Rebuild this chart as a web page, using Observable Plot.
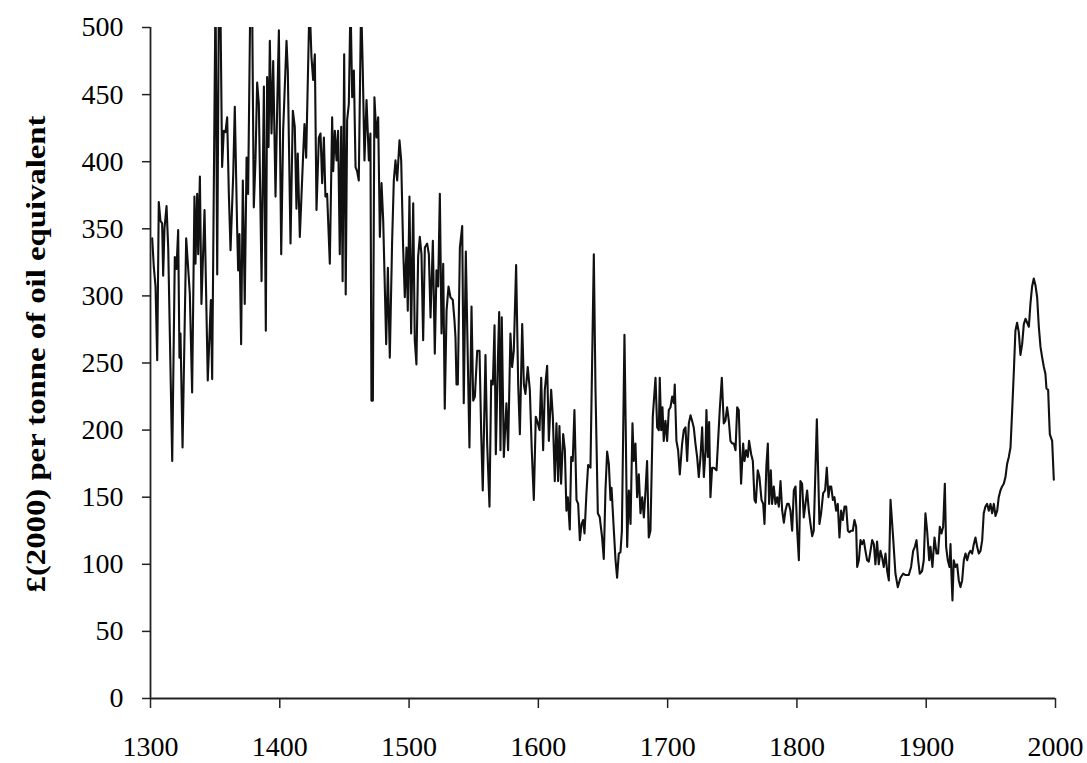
<!DOCTYPE html>
<html>
<head>
<meta charset="utf-8">
<script src="https://cdn.jsdelivr.net/npm/d3@7"></script>
<script src="https://cdn.jsdelivr.net/npm/@observablehq/plot@0.6"></script>
<style>
  html, body { margin: 0; padding: 0; background: #fff; }
  #chart { width: 1087px; height: 763px; }
</style>
</head>
<body>
<div id="chart"></div>
<script>
const yLabel = "£(2000) per tonne of oil equivalent";
const xTicks = [1300, 1400, 1500, 1600, 1700, 1800, 1900, 2000];
const yTicks = [0, 50, 100, 150, 200, 250, 300, 350, 400, 450, 500];

const years = [
1301.3,1302.6,1303.9,1305.2,1306.4,1307.7,1309.0,1309.8,1310.8,1312.4,1313.7,1316.8,1318.8,1320.1,1321.4,1322.4,1323.2,1324.8,1327.6,1330.4,
1332.2,1334.0,1334.8,1336.1,1336.9,1338.2,1339.4,1341.8,1344.3,1346.7,1347.7,1350.3,1351.6,1352.9,1354.1,1355.4,1356.7,1358.0,1359.3,1360.6,
1361.9,1364.0,1365.2,1367.0,1367.8,1368.8,1370.1,1371.4,1372.9,1374.3,1375.5,1377.3,1378.6,1379.9,1381.2,1382.5,1383.8,1385.9,1387.7,1389.2,
1390.2,1391.3,1392.3,1393.6,1394.9,1396.7,1398.0,1399.3,1401.1,1402.6,1405.2,1406.2,1408.3,1410.1,1411.6,1412.9,1413.9,1415.5,1418.1,1419.1,
1420.4,1423.0,1424.5,1425.8,1427.1,1428.4,1430.2,1431.5,1432.8,1434.1,1435.3,1436.6,1438.7,1440.5,1441.3,1442.6,1443.9,1445.1,1446.4,1447.5,
1448.6,1449.8,1451.0,1452.1,1453.4,1454.7,1456.0,1457.3,1458.6,1459.8,1461.1,1462.9,1464.2,1465.5,1467.1,1468.9,1470.1,1470.9,1472.0,1473.2,
1474.8,1476.1,1477.4,1478.7,1480.0,1482.3,1483.6,1485.1,1486.9,1488.2,1489.5,1490.8,1492.6,1493.9,1495.4,1496.7,1498.0,1499.0,1500.3,1501.6,
1503.2,1504.4,1505.7,1507.0,1508.3,1509.6,1510.9,1512.2,1514.0,1515.3,1516.6,1518.4,1519.9,1521.2,1522.5,1523.8,1525.1,1526.4,1527.6,1529.0,
1530.5,1532.0,1533.8,1535.1,1535.9,1536.7,1537.7,1539.3,1541.1,1542.3,1543.9,1545.4,1546.7,1548.3,1549.6,1550.9,1552.7,1554.5,1555.8,1557.0,
1559.1,1560.4,1562.2,1563.5,1564.8,1566.1,1567.1,1568.6,1569.7,1570.7,1571.7,1573.3,1575.3,1576.6,1578.4,1579.7,1581.0,1582.8,1584.4,1585.7,
1587.5,1588.8,1590.0,1591.8,1593.4,1594.9,1596.5,1598.0,1599.6,1600.9,1602.2,1603.7,1605.0,1606.8,1608.1,1609.9,1611.2,1612.7,1614.0,1615.3,
1616.3,1617.6,1619.2,1620.5,1621.7,1622.8,1624.3,1625.4,1626.6,1627.9,1629.5,1630.8,1632.1,1633.4,1634.6,1635.7,1637.2,1638.5,1640.3,1642.9,
1644.2,1646.0,1647.5,1649.3,1650.6,1651.9,1653.2,1654.5,1655.8,1656.6,1658.4,1659.7,1660.9,1662.2,1663.5,1664.6,1666.6,1667.6,1668.7,1670.0,
1671.3,1672.8,1673.8,1675.1,1676.4,1677.7,1679.0,1680.3,1681.6,1682.9,1684.1,1685.4,1686.7,1688.5,1690.6,1691.9,1693.2,1693.9,1695.0,1696.0,
1697.0,1698.3,1699.6,1700.9,1702.2,1703.5,1704.8,1705.5,1706.8,1708.1,1709.4,1711.2,1712.5,1713.8,1715.1,1716.4,1717.7,1718.9,1720.2,1721.5,
1722.8,1724.1,1725.4,1726.7,1728.0,1729.3,1730.0,1731.1,1732.1,1733.1,1734.4,1735.7,1737.8,1740.3,1741.9,1743.4,1744.7,1746.0,1747.3,1748.6,
1749.9,1751.2,1752.5,1753.8,1755.0,1756.8,1758.4,1759.4,1760.7,1762.0,1763.0,1764.6,1765.9,1767.2,1768.2,1769.7,1771.0,1772.6,1773.9,1774.9,
1776.4,1777.5,1778.5,1779.8,1780.8,1782.1,1783.4,1784.7,1786.0,1787.3,1788.6,1789.9,1791.1,1792.4,1793.7,1795.0,1796.3,1797.6,1798.9,1800.2,
1801.5,1802.7,1804.0,1805.3,1806.6,1807.9,1809.2,1810.5,1811.8,1813.0,1814.3,1815.4,1816.4,1817.4,1818.7,1820.3,1821.8,1823.1,1824.4,1825.4,
1826.5,1827.8,1829.0,1830.3,1831.6,1832.9,1834.2,1835.5,1836.8,1838.1,1839.4,1840.6,1841.9,1843.2,1844.5,1845.8,1846.6,1847.9,1849.2,1850.4,
1851.7,1853.0,1854.3,1855.6,1856.9,1858.2,1859.5,1860.7,1862.0,1863.3,1864.6,1865.9,1867.2,1868.5,1869.8,1871.1,1872.4,1874.4,1876.2,1878.0,
1880.1,1882.2,1884.0,1886.5,1888.3,1889.9,1891.2,1892.5,1893.8,1895.0,1896.8,1898.1,1899.4,1900.7,1902.3,1903.3,1904.8,1906.4,1908.0,1909.2,
1910.5,1911.8,1913.1,1914.4,1915.4,1916.7,1918.0,1918.8,1919.5,1920.3,1921.3,1922.6,1923.9,1925.2,1926.5,1927.8,1929.1,1930.4,1931.7,1933.0,
1934.2,1935.5,1936.8,1938.1,1939.4,1940.7,1942.0,1943.3,1944.5,1945.8,1947.1,1948.4,1949.7,1951.0,1952.3,1953.6,1954.9,1956.1,1957.4,1958.7,
1960.0,1961.3,1962.6,1963.9,1965.2,1966.5,1967.8,1969.0,1970.3,1971.6,1972.9,1974.2,1975.5,1976.8,1978.1,1979.4,1980.6,1981.9,1983.2,1984.5,
1985.8,1987.1,1988.4,1989.7,1991.0,1992.2,1993.0,1994.3,1995.6,1997.4,1998.7
];

const prices = [
343,321,307,252,370,356,354,315,350,367,336,177,329,320,349,254,272,187,343,302,
228,374,324,376,331,389,294,364,237,297,238,530,316,525,515,396,423,422,433,376,
334,391,441,351,319,346,264,386,294,403,376,530,520,366,401,459,443,311,456,274,
463,411,490,421,475,374,441,498,331,423,490,468,339,438,426,365,406,344,406,428,
403,520,478,461,480,364,418,421,384,418,374,376,324,433,393,423,401,423,331,426,
311,480,301,431,443,520,448,468,396,393,386,520,468,401,446,401,421,222,222,448,
418,433,344,384,356,264,321,254,341,386,401,386,416,401,336,299,336,289,374,272,
369,267,249,329,344,331,267,336,339,331,284,341,257,319,307,376,272,324,216,289,
307,299,297,282,269,234,234,336,352,220,333,254,187,292,222,225,259,259,197,155,
256,190,143,237,234,278,182,249,288,185,284,180,220,185,272,247,259,323,234,197,
279,234,227,247,230,185,148,210,205,200,239,185,230,248,192,230,210,162,205,162,
203,160,197,185,140,150,126,180,177,215,148,145,118,130,133,123,153,174,172,331,
230,138,135,120,104,155,184,175,148,157,125,103,90,108,109,125,271,200,113,155,
130,205,177,190,150,167,138,150,135,155,177,120,125,210,239,202,200,239,200,217,
192,207,192,215,217,225,220,234,192,185,167,190,200,202,177,205,211,207,202,190,
180,165,180,202,165,185,215,180,206,150,172,172,170,215,239,205,207,217,207,192,
190,190,185,217,215,160,190,177,185,180,192,182,177,148,146,170,165,148,145,130,
174,190,145,170,145,158,145,150,143,162,140,131,140,145,145,140,125,155,158,125,
103,162,160,135,145,155,140,130,121,125,170,208,170,130,138,153,155,172,150,158,
158,148,150,140,145,120,140,133,143,143,125,124,125,125,133,128,98,103,118,115,
118,110,103,102,110,118,115,100,117,100,110,105,98,108,95,88,148,120,93,83,
90,93,92,92,98,110,113,118,103,93,95,103,138,125,103,113,98,120,108,108,
128,123,128,160,113,103,98,115,93,73,103,98,100,88,83,88,103,108,103,108,
110,108,115,120,113,108,110,118,138,143,145,140,145,138,145,136,140,150,155,158,
160,165,175,180,187,215,244,274,280,273,256,264,279,283,280,277,294,307,313,308,
299,277,262,254,247,242,231,230,197,192,163
];

const data = years.map((year, i) => ({year, price: prices[i]}));

const chart = Plot.plot({
  width: 1087,
  height: 763,
  marginLeft: 150,
  marginRight: 32,
  marginTop: 27,
  marginBottom: 65,
  x: {domain: [1300, 2000]},
  y: {domain: [0, 500]},
  style: {
    fontFamily: '"Liberation Serif", "Times New Roman", serif',
    fontSize: "28px",
    color: "#000",
    background: "#fff"
  },
  marks: [
    Plot.line(data, {x: "year", y: "price", stroke: "#111", strokeWidth: 2.1, clip: true}),
    Plot.axisY({ticks: yTicks, tickSize: 8, tickPadding: 19, tickFormat: d => String(d), label: null, stroke: "#222", strokeWidth: 1.5}),
    Plot.axisX({ticks: xTicks, tickSize: 10, tickPadding: 28, tickFormat: d => String(d), label: null, stroke: "#222", strokeWidth: 1.5}),
    Plot.ruleX([1300], {stroke: "#222", strokeWidth: 1.8}),
    Plot.ruleY([0], {stroke: "#222", strokeWidth: 1.8}),
    Plot.text([yLabel], {text: d => d, frameAnchor: "left", textAnchor: "middle", rotate: -90, dx: -114, dy: -9, fontWeight: "bold", fontSize: 28, fill: "#000"})
  ]
});

d3.select(chart).selectAll('g[aria-label="text"] text')
  .attr("textLength", 477)
  .attr("lengthAdjust", "spacingAndGlyphs");

document.getElementById("chart").appendChild(chart);
</script>
</body>
</html>
